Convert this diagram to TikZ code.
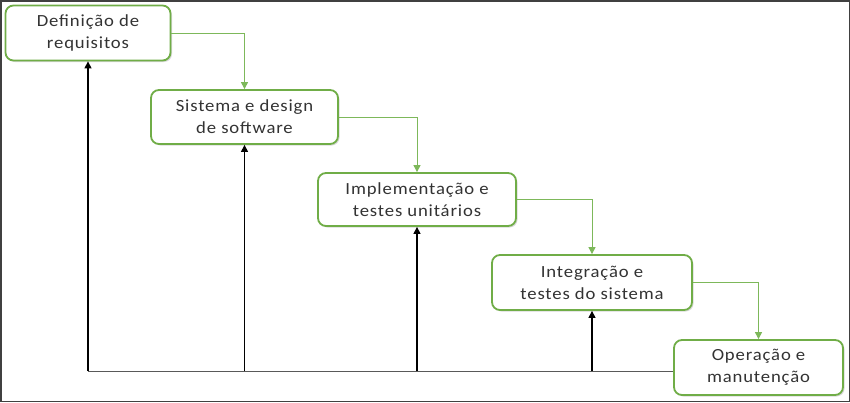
\documentclass[tikz,border=0pt]{standalone}
\usepackage{fontspec}
\setmainfont[FakeStretch=1.1,LetterSpace=5]{Carlito}
\usetikzlibrary{arrows.meta,shadows}
\definecolor{boxgreen}{HTML}{70AD47}
\definecolor{linkgreen}{HTML}{7DB85A}
\begin{document}
\begin{tikzpicture}[x=1pt,y=-1pt,
  stepbox/.style={draw=boxgreen,line width=1.8pt,rounded corners=8pt,fill=white,
    align=center,inner sep=0pt,font=\fontsize{17}{22}\selectfont,text=black!80,
    drop shadow={shadow xshift=1.5pt,shadow yshift=-1.5pt,fill=black!25,opacity=0.6}},
  flow/.style={draw=linkgreen,line width=1pt,-{Triangle[length=7pt,width=7pt]}},
  back/.style={draw=black,line width=1.2pt,-{Triangle[length=7pt,width=7pt]}},
  baseline/.style={draw=black!65,line width=1pt}]
\useasboundingbox (0,0) rectangle (850,402);
\draw[black!75,line width=1.5pt] (0.75,0.75) rectangle (849.25,401.25);
\node[stepbox,minimum width=165pt,minimum height=55pt] (b1) at (88,33) {Definição de\\requisitos};
\node[stepbox,minimum width=187pt,minimum height=54pt] (b2) at (244.5,117) {Sistema e design\\de software};
\node[stepbox,minimum width=198pt,minimum height=53pt] (b3) at (417,199.5) {Implementação e\\testes unitários};
\node[stepbox,minimum width=200pt,minimum height=55pt] (b4) at (592,282.5) {Integração e\\testes do sistema};
\node[stepbox,minimum width=169pt,minimum height=55pt] (b5) at (758.5,367.5) {Operação e\\manutenção};
\coordinate (base) at (0,371);
\draw[flow] (b1.east) -| (b2.north);
\draw[flow] (b2.east) -| (b3.north);
\draw[flow] (b3.east) -| (b4.north);
\draw[flow] (b4.east) -| (b5.north);
\draw[baseline] (b5.west |- base) -- (b1.south |- base);
\draw[back] (b1.south |- base) -- (b1.south);
\draw[back] (b2.south |- base) -- (b2.south);
\draw[back] (b3.south |- base) -- (b3.south);
\draw[back] (b4.south |- base) -- (b4.south);
\end{tikzpicture}
\end{document}
